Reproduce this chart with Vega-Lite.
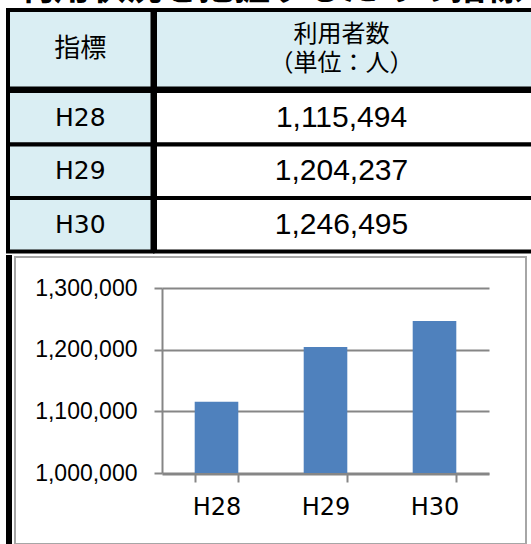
{
  "$schema": "https://vega.github.io/schema/vega-lite/v6.json",
  "padding": {"left": 6, "top": -29, "right": 0, "bottom": 0},
  "background": "white",
  "spacing": 1,
  "title": {"text": "利用状況を把握するための指標", "anchor": "start", "font": "Noto Sans CJK JP", "fontSize": 36, "fontWeight": "bold", "color": "black", "dx": 12, "offset": 0},
  "config": {"view": {"stroke": null}},
  "datasets": {
    "header": [
      {"key": "indicator", "label": "指標"},
      {"key": "users", "label": "利用者数\n（単位：人）"}
    ],
    "users": [
      {"year": "H28", "users": 1115494},
      {"year": "H29", "users": 1204237},
      {"year": "H30", "users": 1246495}
    ]
  },
  "vconcat": [
    {
      "spacing": -4,
      "vconcat": [
        {
          "spacing": -4,
          "hconcat": [
            {
              "width": 144.5, "height": 78.5,
              "data": {"name": "header"},
              "transform": [{"filter": "datum.key === 'indicator'"}],
              "layer": [
                {"mark": {"type": "rect", "fill": "#DAEEF3", "stroke": "black", "strokeWidth": 4}, "encoding": {}},
                {"mark": {"type": "text", "font": "Noto Sans CJK JP", "fontSize": 26, "color": "black", "dy": 0}, "encoding": {"text": {"field": "label"}}}
              ]
            },
            {
              "width": 383, "height": 78.5,
              "data": {"name": "header"},
              "transform": [{"filter": "datum.key === 'users'"}],
              "layer": [
                {"mark": {"type": "rect", "fill": "#DAEEF3", "stroke": "black", "strokeWidth": 4}, "encoding": {}},
                {"mark": {"type": "text", "font": "Noto Sans CJK JP", "fontSize": 24, "color": "black", "lineBreak": "\n", "lineHeight": 29, "dx": -5, "dy": -14}, "encoding": {"text": {"field": "label"}}}
              ]
            }
          ]
        },
        {
          "spacing": -4,
          "hconcat": [
            {
              "width": 144.5, "height": 160.5,
              "data": {"name": "users"},
              "encoding": {"y": {"field": "year", "type": "nominal", "sort": null, "axis": null, "scale": {"paddingInner": 0, "paddingOuter": 0}}},
              "layer": [
                {"mark": {"type": "rect", "fill": "#DAEEF3", "stroke": "black", "strokeWidth": 4}},
                {"mark": {"type": "text", "font": "DejaVu Sans", "fontSize": 25, "color": "black"}, "encoding": {"text": {"field": "year"}}}
              ]
            },
            {
              "width": 383, "height": 160.5,
              "data": {"name": "users"},
              "encoding": {"y": {"field": "year", "type": "nominal", "sort": null, "axis": null, "scale": {"paddingInner": 0, "paddingOuter": 0}}},
              "layer": [
                {"mark": {"type": "rect", "fill": "white", "stroke": "black", "strokeWidth": 4}},
                {"mark": {"type": "text", "font": "Liberation Sans", "fontSize": 30, "color": "black", "dx": -5}, "encoding": {"text": {"field": "users", "format": ",d"}}}
              ]
            }
          ]
        }
      ]
    },
    {
      "spacing": 2,
      "hconcat": [
        {
          "width": 2, "height": 300,
          "data": {"values": [{"cell": "chart"}]},
          "mark": {"type": "rect", "fill": "black", "stroke": "black", "strokeWidth": 4},
          "encoding": {}
        },
        {
          "width": 511, "height": 287,
          "data": {"name": "users"},
          "view": {"stroke": "#A6A6A6", "strokeWidth": 2, "fill": "white"},
          "mark": {"type": "bar", "color": "#4F81BD"},
          "encoding": {
            "x": {
              "field": "year", "type": "nominal", "sort": null, "title": null,
              "scale": {"range": [147, 474], "paddingInner": 0.6, "paddingOuter": 0.3},
              "axis": {"orient": "bottom", "offset": -70, "labelAngle": 0, "labelFont": "DejaVu Sans", "labelFontSize": 24, "labelColor": "black", "tickSize": 8, "tickBand": "extent", "tickColor": "#868686", "tickWidth": 2, "domainColor": "#868686", "domainWidth": 2, "labelPadding": 13, "grid": false}
            },
            "y": {
              "field": "users", "type": "quantitative", "title": null,
              "scale": {"domain": [1000000, 1300000], "range": [216, 31], "nice": false, "zero": false},
              "axis": {"values": [1000000, 1100000, 1200000, 1300000], "format": ",d", "offset": -147, "labelFont": "Liberation Sans", "labelFontSize": 23, "labelColor": "black", "labelFlush": false, "tickSize": 8, "tickColor": "#868686", "tickWidth": 2, "domainColor": "#868686", "domainWidth": 2, "grid": true, "gridColor": "#868686", "gridWidth": 2, "labelPadding": 17}
            },
            "y2": {"datum": 1000000}
          }
        }
      ]
    }
  ]
}
